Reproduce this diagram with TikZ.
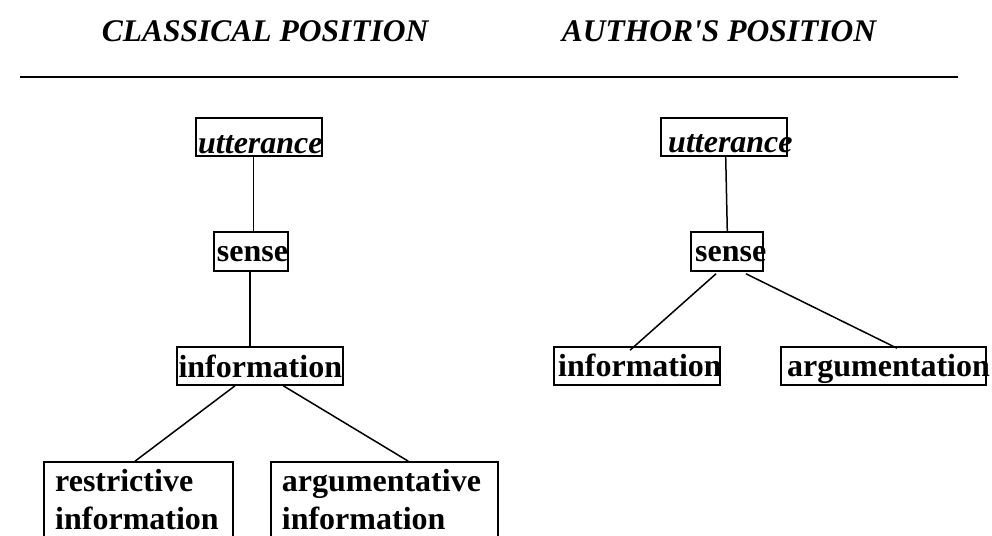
\documentclass[tikz,border=0pt]{standalone}
\usepackage{fontspec}
\setmainfont{Liberation Serif}
\begin{document}
\begin{tikzpicture}[x=1pt,y=1pt,
  box/.style={draw, line width=1.6pt, inner sep=0pt},
  lbl/.style={inner sep=0pt, anchor=base west, font=\fontsize{32}{38}\selectfont\bfseries},
  ilbl/.style={lbl, font=\fontsize{32}{38}\selectfont\bfseries\itshape},
  ttl/.style={inner sep=0pt, anchor=base west, font=\fontsize{31.5}{36}\selectfont\bfseries\itshape},
  conn/.style={line width=1.5pt}]
\useasboundingbox (0,0) rectangle (992,535);
\clip (0,0) rectangle (992,535);

% titles and rule
\node[ttl] (t1) at (101.7,493.3) {CLASSICAL POSITION};
\node[ttl] (t2) at (561.7,493.3) {AUTHOR\textquotesingle S POSITION};
\coordinate (r0) at (20,458);
\coordinate (r1) at (958,458);
\draw[line width=2pt] (r0) -- (r1);

% left tree boxes
\node[box, minimum width=126, minimum height=38] (u1) at (259,398) {};
\node[box, minimum width=74, minimum height=39] (s1) at (251,283.5) {};
\node[box, minimum width=166, minimum height=38] (i1) at (260,169) {};
\node[box, minimum width=189, minimum height=83] (rb) at (138.5,31.5) {};
\node[box, minimum width=227, minimum height=83] (ab) at (384.5,31.5) {};

\node[ilbl] (u1t) at (198,381.7) {utterance};
\node[lbl] (s1t) at (216.7,273) {sense};
\node[lbl] (i1t) at (178.3,157.3) {information};
\node[lbl] (rbt1) at (55,43.3) {restrictive};
\node[lbl] (rbt2) at (55,6) {information};
\node[lbl] (abt1) at (281.7,43.3) {argumentative};
\node[lbl] (abt2) at (281.7,6) {information};

% left connectors
\draw[conn] ([xshift=-5.3pt]u1.south) -- ([xshift=2.7pt]s1.north);
\draw[conn] ([xshift=-1pt]s1.south) -- ([xshift=-10pt]i1.north);
\draw[conn] ([xshift=-25pt]i1.south) -- ([xshift=-3.5pt]rb.north);
\draw[conn] ([xshift=23.3pt]i1.south) -- ([xshift=23.8pt]ab.north);

% right tree boxes
\node[box, minimum width=126, minimum height=38] (u2) at (724,398) {};
\node[box, minimum width=72, minimum height=39] (s2) at (727,283.5) {};
\node[box, minimum width=166, minimum height=38] (i2) at (637,169) {};
\node[box, minimum width=205, minimum height=38] (g2) at (883.5,169) {};

\node[ilbl] (u2t) at (668,382) {utterance};
\node[lbl] (s2t) at (695,273) {sense};
\node[lbl] (i2t) at (558,158.3) {information};
\node[lbl] (g2t) at (787,158.3) {argumentation};

% right connectors
\draw[conn] ([xshift=1.7pt]u2.south) -- ([xshift=0.3pt]s2.north);
\draw[conn] ([xshift=-11pt,yshift=-2pt]s2.south) -- ([xshift=-7pt,yshift=-4pt]i2.north);
\draw[conn] ([xshift=19pt,yshift=-2pt]s2.south) -- ([xshift=13.5pt,yshift=-2pt]g2.north);
\end{tikzpicture}
\end{document}
